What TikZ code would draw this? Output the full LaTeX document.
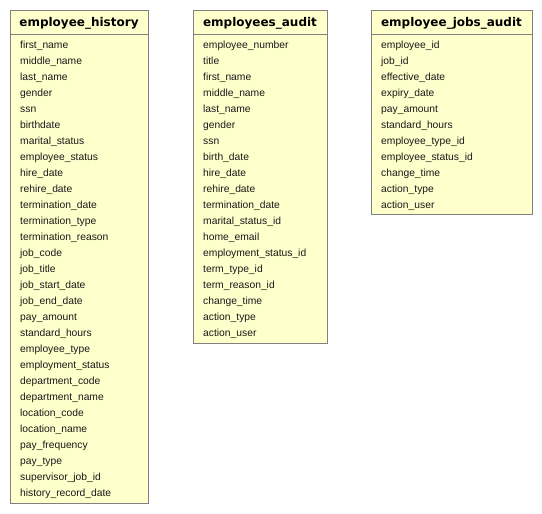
\documentclass[tikz,border=0pt]{standalone}
\usepackage{fontspec}
\setmainfont{Liberation Sans}
\newfontfamily\hdrfont{DejaVu Sans}
\definecolor{tblfill}{RGB}{255,255,204}
\definecolor{tblborder}{RGB}{128,128,128}
\tikzset{
  tbl/.style={draw=tblborder, fill=tblfill, line width=0.9pt},
  sep/.style={draw=tblborder, line width=0.9pt},
  hdr/.style={font=\hdrfont\bfseries\fontsize{12}{14}\selectfont, anchor=base, inner sep=0pt},
  fld/.style={font=\fontsize{10.3}{12}\selectfont, anchor=base west, inner sep=0pt, text=black!90}
}
\begin{document}
\begin{tikzpicture}[x=1pt,y=-1pt]
\useasboundingbox (0,0) rectangle (542,514);
% ---- employee_history
\draw[tbl] (10,10) rectangle (148,503);
\draw[sep] (10,34) -- (148,34);
\node[hdr] (h1) at (79,26.5) {employee\_history};
\foreach \f [count=\i] in {first\_name,middle\_name,last\_name,gender,ssn,birthdate,marital\_status,employee\_status,hire\_date,rehire\_date,termination\_date,termination\_type,termination\_reason,job\_code,job\_title,job\_start\_date,job\_end\_date,pay\_amount,standard\_hours,employee\_type,employment\_status,department\_code,department\_name,location\_code,location\_name,pay\_frequency,pay\_type,supervisor\_job\_id,history\_record\_date}
  \node[fld] (ha\i) at (20,{48.8+16*(\i-1)}) {\f};
% ---- employees_audit
\draw[tbl] (193,10) rectangle (327,343);
\draw[sep] (193,34) -- (327,34);
\node[hdr] (h2) at (260,26.5) {employees\_audit};
\foreach \f [count=\i] in {employee\_number,title,first\_name,middle\_name,last\_name,gender,ssn,birth\_date,hire\_date,rehire\_date,termination\_date,marital\_status\_id,home\_email,employment\_status\_id,term\_type\_id,term\_reason\_id,change\_time,action\_type,action\_user}
  \node[fld] (ea\i) at (203,{48.8+16*(\i-1)}) {\f};
% ---- employee_jobs_audit
\draw[tbl] (371,10) rectangle (532,214);
\draw[sep] (371,34) -- (532,34);
\node[hdr] (h3) at (451.5,26.5) {employee\_jobs\_audit};
\foreach \f [count=\i] in {employee\_id,job\_id,effective\_date,expiry\_date,pay\_amount,standard\_hours,employee\_type\_id,employee\_status\_id,change\_time,action\_type,action\_user}
  \node[fld] (ja\i) at (381,{48.8+16*(\i-1)}) {\f};
\end{tikzpicture}
\end{document}
